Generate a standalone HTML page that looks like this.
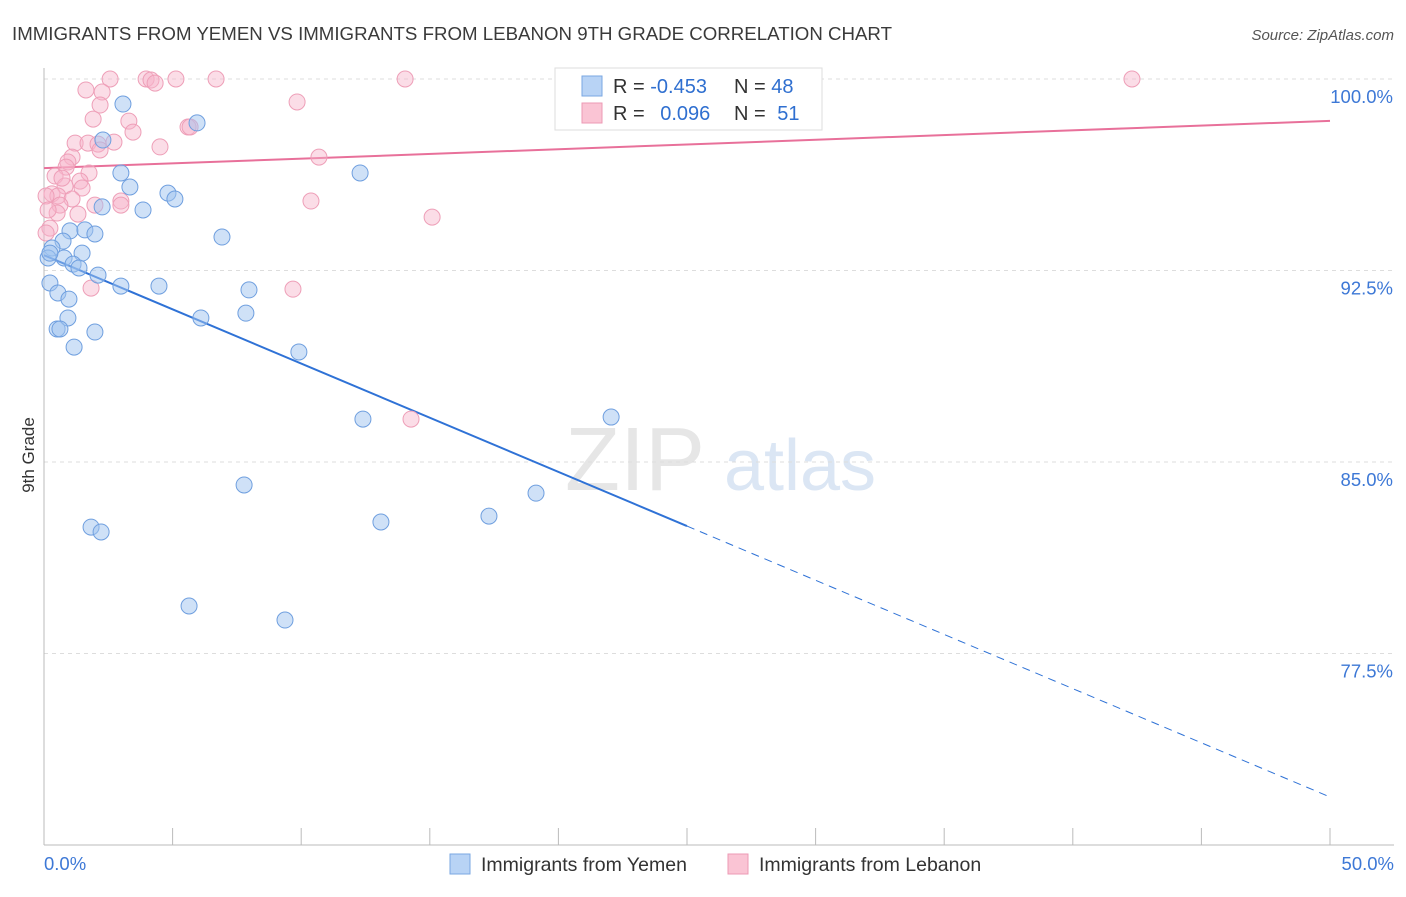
<!DOCTYPE html>
<html><head><meta charset="utf-8">
<style>
body{margin:0;background:#fff;font-family:"Liberation Sans",sans-serif;}
svg text{font-family:"Liberation Sans",sans-serif;}
</style></head>
<body>
<svg id="chart" width="1406" height="892">
<text x="12" y="40" font-size="18" fill="#3a3a3a" textLength="880" lengthAdjust="spacingAndGlyphs">IMMIGRANTS FROM YEMEN VS IMMIGRANTS FROM LEBANON 9TH GRADE CORRELATION CHART</text>
<text x="1394" y="40" font-size="15" fill="#555" text-anchor="end" font-style="italic">Source: ZipAtlas.com</text>
<text x="34" y="455" font-size="17" fill="#333" transform="rotate(-90 34 455)" text-anchor="middle">9th Grade</text>
<g>
<text x="635" y="490" font-size="90" fill="#e6e6e6" text-anchor="middle" font-family="Liberation Serif">ZIP</text>
<text x="800" y="490" font-size="72" fill="#dbe6f4" text-anchor="middle">atlas</text>
</g>
<g id="grid"></g><g id="axes"></g><g id="lines"></g><g id="pts"></g>
<g>
<rect x="555" y="68" width="267" height="62" fill="#fff" stroke="#ddd"/>
<rect x="582" y="76" width="20" height="20" fill="#b8d3f5" stroke="#7aa7e2"/>
<rect x="582" y="103" width="20" height="20" fill="#fac4d4" stroke="#ec9ab4"/>
<text x="613" y="93" font-size="20" fill="#333">R = <tspan fill="#2f6fd0">-0.453</tspan></text>
<text x="734" y="93" font-size="20" fill="#333">N = <tspan fill="#2f6fd0">48</tspan></text>
<text x="613" y="120" font-size="20" fill="#333">R = <tspan fill="#2f6fd0" dx="10">0.096</tspan></text>
<text x="734" y="120" font-size="20" fill="#333">N = <tspan fill="#2f6fd0" dx="6">51</tspan></text>
</g>
<g>
<rect x="450" y="854" width="20" height="20" fill="#b8d3f5" stroke="#7aa7e2"/>
<text x="481" y="871" font-size="19.5" fill="#333">Immigrants from Yemen</text>
<rect x="728" y="854" width="20" height="20" fill="#fac4d4" stroke="#ec9ab4"/>
<text x="759" y="871" font-size="19.5" fill="#333">Immigrants from Lebanon</text>
</g>
</svg>
<script>
const yTicks=[100,92.5,85,77.5];
const yTickLabels=["100.0%","92.5%","85.0%","77.5%"];
const xTickLabels=["0.0%","50.0%"];
const yemenX=[3.07,5.95,2.29,2.99,12.29,3.34,4.82,5.09,2.26,3.85,6.92,1.01,1.59,1.98,0.74,0.31,1.48,0.16,0.78,1.13,1.36,2.10,0.23,2.99,4.47,7.97,0.54,0.97,7.85,6.10,0.93,0.51,0.62,1.98,1.17,9.91,12.40,22.05,7.78,19.13,17.30,13.10,1.83,2.22,5.64,9.37,0.23];
const yemenY=[99.02,98.28,97.61,96.32,96.32,95.77,95.53,95.30,94.99,94.87,93.81,94.05,94.09,93.93,93.65,93.38,93.18,92.99,92.99,92.75,92.60,92.32,92.01,91.89,91.89,91.74,91.62,91.38,90.83,90.64,90.64,90.21,90.21,90.09,89.50,89.31,86.68,86.76,84.10,83.78,82.88,82.65,82.45,82.26,79.36,78.81,93.18];
const lebX=[2.57,3.97,4.16,4.32,5.13,6.69,14.04,42.30,1.63,2.26,9.84,2.18,1.91,3.30,5.60,3.46,1.21,1.71,2.10,2.72,4.51,2.18,1.09,10.69,0.93,0.86,1.75,0.43,1.40,0.82,1.48,0.31,0.54,1.09,0.08,2.99,1.98,2.99,0.62,10.38,0.51,1.32,15.09,0.23,0.08,1.83,9.68,14.27,5.68,0.70,0.16];
const lebY=[100,100,99.96,99.84,100,100,100,100,99.57,99.49,99.10,98.98,98.43,98.35,98.12,97.92,97.49,97.49,97.45,97.53,97.34,97.22,96.94,96.94,96.75,96.55,96.32,96.20,96.00,95.81,95.73,95.50,95.42,95.30,95.42,95.22,95.06,95.06,95.06,95.22,94.75,94.71,94.59,94.16,93.97,91.81,91.77,86.68,98.12,96.12,94.87];
const yemenTrend=[93.1,71.88];
const lebTrend=[96.51,98.36];
const NS="http://www.w3.org/2000/svg";
const X=v=>44+v*25.72, Y=v=>79+(100-v)*25.533;
function mk(tag,attrs,parent){const e=document.createElementNS(NS,tag);for(const k in attrs)e.setAttribute(k,attrs[k]);document.getElementById(parent).appendChild(e);return e;}
yTicks.forEach((t,i)=>{
 const l=mk('line',{x1:44,x2:1394,y1:Y(t),y2:Y(t),stroke:'#ddd','stroke-dasharray':'4 4'},'grid');
 
 
 const tx=mk('text',{x:1393,y:Y(t)+24,'font-size':18.5,fill:'#3d78d6','text-anchor':'end'},'axes');
 tx.textContent=yTickLabels[i];
 
 
});
const ax=mk('line',{x1:44,x2:44,y1:68,y2:845,stroke:'#bbb'},'axes');


const bx=mk('line',{x1:44,x2:1394,y1:845,y2:845,stroke:'#bbb'},'axes');


for(let i=0;i<=10;i++){const t=mk('line',{x1:X(i*5),x2:X(i*5),y1:828,y2:845,stroke:'#bbb'},'axes');
 
 }
[[0,'start',44],[50,'end',1394]].forEach((d,i)=>{const t=mk('text',{x:d[2],y:870,'font-size':18.5,fill:'#3d78d6','text-anchor':d[1]},'axes');t.textContent=xTickLabels[i];
 
 });
const yAt=x=>yemenTrend[0]+(yemenTrend[1]-yemenTrend[0])*x/50;
let l1=mk('line',{x1:X(0),y1:Y(yAt(0)),x2:X(25),y2:Y(yAt(25)),stroke:'#2f72d6','stroke-width':2},'lines');


let l2=mk('line',{x1:X(25),y1:Y(yAt(25)),x2:X(50),y2:Y(yAt(50)),stroke:'#2f72d6','stroke-width':1,'stroke-dasharray':'8 6'},'lines');


let l3=mk('line',{x1:X(0),y1:Y(lebTrend[0]),x2:X(50),y2:Y(lebTrend[1]),stroke:'#e8709a','stroke-width':2},'lines');


lebX.forEach((x,i)=>{const c=mk('circle',{cx:X(x),cy:Y(lebY[i]),r:8,fill:'rgba(247,180,202,0.45)',stroke:'#ee9fb8','stroke-width':1},'pts');
 
 });
yemenX.forEach((x,i)=>{const c=mk('circle',{cx:X(x),cy:Y(yemenY[i]),r:8,fill:'rgba(160,196,240,0.5)',stroke:'#6f9fdf','stroke-width':1},'pts');
 
 });
</script>
</body></html>
